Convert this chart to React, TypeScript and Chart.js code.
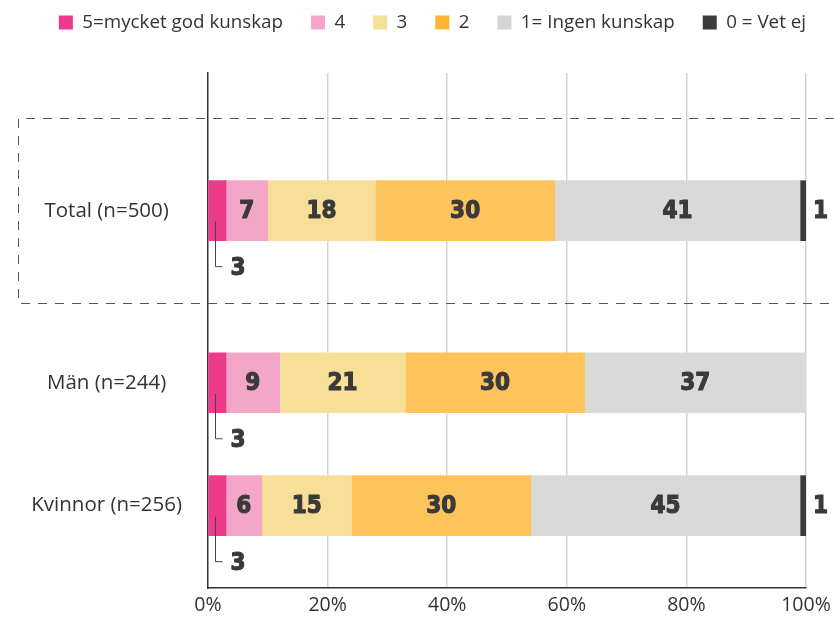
import React, { useEffect, useRef } from "react";
import { Chart, registerables } from "chart.js";

Chart.register(...registerables);

// ---- data ----
const groups = ["Total (n=500)", "Män (n=244)", "Kvinnor (n=256)"];
// slot of each group on the category axis (Total is set apart by a wider gap)
const groupSlots = [0, 1.4, 2.4];
const seriesNames = ["5=mycket god kunskap", "4", "3", "2", "1= Ingen kunskap", "0 = Vet ej"];
const s5 = [3, 3, 3];
const s4 = [7, 9, 6];
const s3 = [18, 21, 15];
const s2 = [30, 30, 30];
const s1 = [41, 37, 45];
const s0 = [1, 0, 1];
const seriesValues = [s5, s4, s3, s2, s1, s0];
const xTickValues = [0, 20, 40, 60, 80, 100];

// ---- styles ----
const seriesColors = ["#EE3A8B", "#F4A6C9", "#F8DF97", "#FDC45C", "#D9D9DA", "#3B3B3B"];
const legendColors = ["#EE3A8B", "#F4A6C9", "#F8DF97", "#FBB731", "#D4D4D6", "#3B3B3B"];
const TEXT = "#333333";
const LABEL_FONT = "bold 24px 'Liberation Sans Narrow', 'DejaVu Sans Condensed', 'Arial Narrow', sans-serif";

const dashedBoxPlugin = {
  id: "dashedBox",
  beforeDatasetsDraw(chart: any) {
    const { ctx } = chart;
    const y = chart.scales.y;
    const top = Math.round(y.getPixelForValue(groupSlots[0] - 0.75)) + 0.5;
    const bottom = Math.round(y.getPixelForValue(groupSlots[0] + 0.75)) + 0.5;
    const left = 18.5;
    const right = chart.width;
    ctx.save();
    ctx.strokeStyle = "#555555";
    ctx.lineWidth = 1;
    ctx.setLineDash([9, 8]);
    ctx.beginPath();
    ctx.moveTo(right, top);
    ctx.lineTo(left, top);
    ctx.lineTo(left, bottom);
    ctx.lineTo(right, bottom);
    ctx.stroke();
    ctx.restore();
  },
};

const labelPlugin = {
  id: "barLabels",
  afterDatasetsDraw(chart: any) {
    const { ctx } = chart;
    const last = chart.data.datasets.length - 1;
    ctx.save();
    ctx.font = LABEL_FONT;
    ctx.fillStyle = "#3A3A3A";
    ctx.strokeStyle = "#3A3A3A";
    ctx.lineWidth = 1.1;
    ctx.lineJoin = "round";
    ctx.textBaseline = "middle";
    chart.data.datasets.forEach((ds: any, di: number) => {
      const meta = chart.getDatasetMeta(di);
      meta.data.forEach((el: any, i: number) => {
        const v = seriesValues[di][i];
        if (!v) return;
        const txt = String(v);
        if (di === 0 && v < 5) {
          const x0 = Math.round(el.base + 6) + 0.5;
          ctx.save();
          ctx.lineWidth = 1;
          ctx.strokeStyle = "#444";
          ctx.beginPath();
          ctx.moveTo(x0, el.y + 11);
          ctx.lineTo(x0, el.y + 56);
          ctx.lineTo(x0 + 7, el.y + 56);
          ctx.stroke();
          ctx.restore();
          ctx.textAlign = "left";
          ctx.fillText(txt, x0 + 15, el.y + 58);
          ctx.strokeText(txt, x0 + 15, el.y + 58);
        } else if (di === last && v < 5) {
          ctx.textAlign = "left";
          ctx.fillText(txt, el.x + 7, el.y + 1);
          ctx.strokeText(txt, el.x + 7, el.y + 1);
        } else {
          ctx.textAlign = "center";
          const cx = (el.x + el.base) / 2;
          ctx.fillText(txt, cx, el.y + 1);
          ctx.strokeText(txt, cx, el.y + 1);
        }
      });
    });
    ctx.restore();
  },
};

export default function App() {
  const ref = useRef<HTMLCanvasElement>(null);
  useEffect(() => {
    if (!ref.current) return;
    Chart.defaults.font.family = "'Open Sans', sans-serif";
    Chart.defaults.color = TEXT;
    const chart = new Chart(ref.current, {
      type: "bar",
      data: {
        datasets: seriesNames.map((name, di) => ({
          label: name,
          data: groupSlots.map((slot, i) => ({ x: seriesValues[di][i], y: slot })),
          backgroundColor: seriesColors[di],
          borderWidth: 0,
          barThickness: 60,
        })),
      },
      options: {
        indexAxis: "y",
        animation: false,
        responsive: true,
        maintainAspectRatio: false,
        layout: { padding: { left: 0, right: 0, top: -15, bottom: 0 } },
        plugins: {
          legend: {
            position: "top",
            align: "end",
            labels: {
              boxWidth: 14,
              boxHeight: 14,
              padding: 28,
              font: { size: 18.8 },
              color: TEXT,
              generateLabels: () =>
                seriesNames.map((n, i) => ({
                  text: n,
                  fillStyle: legendColors[i],
                  strokeStyle: legendColors[i],
                  lineWidth: 0,
                  hidden: false,
                  datasetIndex: i,
                  fontColor: TEXT,
                })),
            },
          },
          title: {
            display: true,
            text: "",
            weight: 500,
            font: { size: 1 },
            padding: { top: 0, bottom: 30 },
          } as any,
          tooltip: { enabled: false },
        },
        scales: {
          x: {
            type: "linear",
            stacked: true,
            min: 0,
            max: 100,
            afterBuildTicks: (scale: any) => {
              scale.ticks = xTickValues.map((v) => ({ value: v }));
            },
            ticks: {
              callback: (v: any) => v + "%",
              font: { size: 19.5 },
              color: TEXT,
              padding: 6,
            },
            grid: {
              drawTicks: false,
              lineWidth: 1.5,
              color: (c: any) => (c.tick && c.tick.value === 0 ? "rgba(0,0,0,0)" : "#D3D3D3"),
            },
            border: { display: true, color: "#333333", width: 1.5 },
            afterFit: (scale: any) => {
              scale.paddingRight = 28;
              scale.height = 31;
            },
          },
          y: {
            type: "linear",
            stacked: true,
            reverse: true,
            offset: false,
            min: -1.12,
            max: 3.07,
            afterBuildTicks: (scale: any) => {
              scale.ticks = groupSlots.map((v) => ({ value: v }));
            },
            ticks: {
              autoSkip: false,
              crossAlign: "center",
              padding: 26,
              font: { size: 20.5 },
              color: TEXT,
              callback: (v: any) => {
                const k = groupSlots.indexOf(Number(v));
                return k >= 0 ? groups[k] : "";
              },
            },
            grid: { display: true, drawOnChartArea: false, drawTicks: false },
            border: { display: true, color: "#333333", width: 1.5 },
            afterFit: (scale: any) => {
              scale.width = 208;
              scale.paddingTop = 0;
              scale.paddingBottom = 0;
            },
          },
        },
      } as any,
      plugins: [dashedBoxPlugin, labelPlugin],
    });
    return () => chart.destroy();
  }, []);
  return (
    <div style={{ position: "absolute", left: 0, top: 0, width: 834, height: 619, background: "#fff" }}>
      <canvas ref={ref} />
    </div>
  );
}
